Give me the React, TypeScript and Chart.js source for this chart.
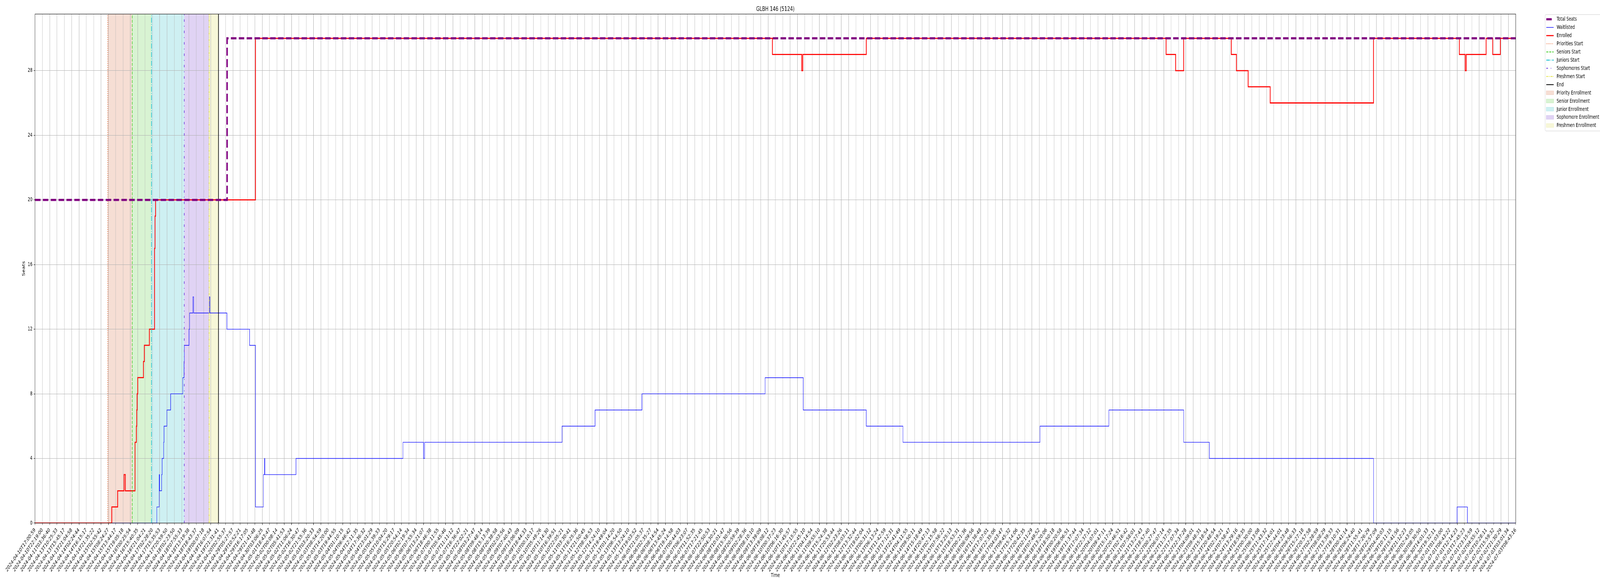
import React, { useEffect, useRef } from "react";
import { Chart, registerables } from "chart.js";

Chart.register(...registerables);

const FONT = "'DejaVu Sans', 'Liberation Sans', sans-serif";
const pt = (v: number) => (v * 100) / 72;

const FIG_W = 6000;
const FIG_H = 1500;

const chartTitle = "GLBH 146 (5124)";
const xTitle = "Time";
const yTitle = "Seats";

const tickLabels = [
  "2024-04-10T17:00:59", "2024-04-10T22:19:00", "2024-04-11T03:36:40", "2024-04-13T10:25:33",
  "2024-04-13T15:45:17", "2024-04-13T21:04:58", "2024-04-14T02:24:44", "2024-04-14T16:15:17",
  "2024-04-14T21:35:22", "2024-04-15T02:55:42", "2024-04-15T08:24:27", "2024-04-15T13:44:17",
  "2024-04-15T19:05:18", "2024-04-16T00:25:54", "2024-04-16T15:40:35", "2024-04-16T21:04:21",
  "2024-04-17T02:28:20", "2024-04-17T15:35:53", "2024-04-17T20:59:50", "2024-04-18T02:23:50",
  "2024-04-18T07:55:33", "2024-04-18T13:19:38", "2024-04-18T18:43:37", "2024-04-19T00:07:18",
  "2024-04-19T16:07:54", "2024-04-19T21:31:41", "2024-04-20T02:55:37", "2024-04-29T05:27:57",
  "2024-04-29T10:52:21", "2024-04-29T16:17:05", "2024-04-29T21:41:48", "2024-04-30T03:06:25",
  "2024-05-01T18:43:47", "2024-05-02T00:08:14", "2024-05-02T05:41:53", "2024-05-02T11:06:24",
  "2024-05-02T16:30:47", "2024-05-02T21:55:36", "2024-05-03T03:20:33", "2024-05-03T08:54:59",
  "2024-05-03T14:20:00", "2024-05-03T19:44:55", "2024-05-04T01:10:15", "2024-05-04T06:46:42",
  "2024-05-04T12:11:35", "2024-05-04T17:36:32", "2024-05-04T23:01:29", "2024-05-05T04:39:33",
  "2024-05-05T10:04:20", "2024-05-05T15:29:17", "2024-05-05T20:54:14", "2024-05-06T02:19:34",
  "2024-05-06T07:55:34", "2024-05-06T13:21:07", "2024-05-06T18:46:38", "2024-05-07T00:11:55",
  "2024-05-07T05:45:46", "2024-05-07T11:11:12", "2024-05-07T16:36:47", "2024-05-07T22:02:21",
  "2024-05-08T03:27:47", "2024-05-08T09:48:14", "2024-05-08T15:13:39", "2024-05-08T20:38:58",
  "2024-05-09T02:03:56", "2024-05-09T07:40:43", "2024-05-09T13:06:09", "2024-05-09T18:44:33",
  "2024-05-10T00:10:17", "2024-05-10T05:49:26", "2024-05-10T11:14:30", "2024-05-10T16:39:51",
  "2024-05-10T22:05:21", "2024-05-11T03:30:41", "2024-05-11T16:25:36", "2024-05-11T21:50:45",
  "2024-05-12T08:58:53", "2024-05-12T14:24:10", "2024-05-12T19:49:04", "2024-05-13T01:14:20",
  "2024-05-13T06:54:50", "2024-05-13T13:24:10", "2024-05-13T19:03:52", "2024-06-05T21:05:37",
  "2024-06-06T02:35:27", "2024-06-06T08:14:54", "2024-06-06T13:45:24", "2024-06-06T19:14:58",
  "2024-06-07T00:44:03", "2024-06-07T06:23:07", "2024-06-07T11:52:35", "2024-06-07T17:21:45",
  "2024-06-07T22:50:53", "2024-06-08T04:30:21", "2024-06-08T10:01:47", "2024-06-08T15:30:56",
  "2024-06-08T20:59:39", "2024-06-09T02:28:36", "2024-06-09T08:10:10", "2024-06-09T13:39:09",
  "2024-06-09T19:08:12", "2024-06-10T00:37:23", "2024-06-10T06:16:30", "2024-06-10T11:45:57",
  "2024-06-10T17:15:55", "2024-06-10T22:45:10", "2024-06-11T04:14:54", "2024-06-11T09:55:10",
  "2024-06-11T15:24:38", "2024-06-11T20:53:44", "2024-06-12T02:23:26", "2024-06-12T08:03:11",
  "2024-06-12T13:32:44", "2024-06-12T19:02:04", "2024-06-13T00:31:12", "2024-06-13T06:13:24",
  "2024-06-13T11:42:59", "2024-06-13T17:12:31", "2024-06-13T22:41:49", "2024-06-14T04:11:55",
  "2024-06-14T09:50:11", "2024-06-14T15:18:49", "2024-06-14T20:47:13", "2024-06-15T02:15:58",
  "2024-06-15T07:56:22", "2024-06-15T13:25:13", "2024-06-15T18:53:31", "2024-06-16T00:21:36",
  "2024-06-16T06:09:56", "2024-06-16T11:38:48", "2024-06-16T17:07:01", "2024-06-16T22:35:06",
  "2024-06-17T04:03:47", "2024-06-17T09:45:32", "2024-06-17T15:14:06", "2024-06-17T20:42:35",
  "2024-06-18T02:11:29", "2024-06-18T07:49:52", "2024-06-18T13:20:06", "2024-06-18T18:50:18",
  "2024-06-19T00:20:58", "2024-06-19T06:06:51", "2024-06-19T11:37:44", "2024-06-19T17:07:34",
  "2024-06-19T22:37:12", "2024-06-20T04:07:01", "2024-06-20T09:47:11", "2024-06-20T15:17:24",
  "2024-06-20T20:46:51", "2024-06-21T02:16:42", "2024-06-21T07:58:01", "2024-06-21T13:27:43",
  "2024-06-21T18:57:40", "2024-06-22T00:27:47", "2024-06-22T06:07:14", "2024-06-22T11:37:35",
  "2024-06-22T17:07:34", "2024-06-22T22:37:28", "2024-06-23T04:09:01", "2024-06-23T09:48:31",
  "2024-06-23T15:18:54", "2024-06-23T20:48:54", "2024-06-24T02:19:21", "2024-06-24T07:58:47",
  "2024-06-24T13:29:16", "2024-06-24T18:59:35", "2024-06-25T00:30:00", "2024-06-25T06:13:08",
  "2024-06-25T11:43:32", "2024-06-25T17:14:01", "2024-06-25T22:44:01", "2024-06-26T04:23:48",
  "2024-06-26T09:56:33", "2024-06-26T15:27:18", "2024-06-26T20:57:58", "2024-06-27T02:28:59",
  "2024-06-27T08:08:29", "2024-06-27T13:39:33", "2024-06-27T19:10:31", "2024-06-28T00:41:14",
  "2024-06-28T06:24:40", "2024-06-28T11:55:41", "2024-06-28T17:26:29", "2024-06-28T22:57:09",
  "2024-06-29T04:40:03", "2024-06-29T10:11:15", "2024-06-29T15:41:56", "2024-06-29T21:12:23",
  "2024-06-30T02:43:05", "2024-06-30T08:30:50", "2024-06-30T14:01:33", "2024-06-30T19:32:11",
  "2024-07-01T01:03:00", "2024-07-01T06:43:22", "2024-07-01T12:14:23", "2024-07-01T17:45:23",
  "2024-07-01T23:15:59", "2024-07-02T04:55:12", "2024-07-02T10:28:11", "2024-07-02T15:59:32",
  "2024-07-02T21:30:29", "2024-07-03T03:01:34", "2024-07-03T08:43:16",
];

const yTickValues = [0, 4, 8, 12, 16, 20, 24, 28];
const yLimit = 31.5;

// x values are positions along the sample axis, in units of tick labels
const totalSeatsX = [0, 26.2, 202];
const totalSeatsY = [20, 30, 30];

const enrolledX = [
  0, 10.47, 11.27, 12.14, 12.32, 13.64, 13.83, 13.87, 13.93, 14.01, 14.79, 14.91, 15.6, 16.3, 16.37,
  16.45, 30.07, 100.6, 104.6, 104.75, 113.4, 154.3, 155.6, 156.7, 163.2, 163.9, 165.5, 168.5, 182.6,
  194.3, 195.1, 195.25, 197.96, 198.86, 199.9, 202,
];
const enrolledY = [
  0, 1, 2, 3, 2, 5, 6, 7, 8, 9, 10, 11, 12, 17, 19,
  20, 30, 29, 28, 29, 30, 29, 28, 30, 29, 28, 27, 26, 30,
  29, 28, 29, 30, 29, 30, 30,
];

const waitlistedX = [
  0, 16.62, 16.94, 16.99, 17.27, 17.34, 17.55, 17.6, 17.99, 18.5, 20.16, 20.33, 20.37, 21.01, 21.09,
  21.54, 21.64, 23.78, 23.86, 26.18, 29.27, 30.07, 31.15, 31.31, 31.35, 35.6, 50.2, 53.0, 53.15, 71.9,
  76.4, 82.8, 99.6, 104.8, 113.4, 118.4, 137.1, 146.5, 156.7, 160.2, 182.6, 194.0, 195.4, 202,
];
const waitlistedY = [
  0, 1, 3, 2, 3, 4, 5, 6, 7, 8, 9, 10, 11, 12, 13,
  14, 13, 14, 13, 12, 11, 1, 3, 4, 3, 4, 5, 4, 5, 6,
  7, 8, 9, 7, 6, 5, 6, 7, 5, 4, 0, 1, 0, 0,
];

const phaseLabels = ["Priorities Start", "Seniors Start", "Juniors Start", "Sophomores Start", "Freshmen Start", "End"];
const phaseX = [9.92, 13.26, 15.89, 20.36, 23.75, 25.03];
const bandLabels = ["Priority Enrollment", "Senior Enrollment", "Junior Enrollment", "Sophomore Enrollment", "Freshmen Enrollment"];

// styles
const phaseColors = ["#ec6d35", "#3dcc22", "#17becf", "#6a2fdc", "#e2e23a", "#000000"];
const phaseDashUnits = [[1, 1.65], [3.7, 1.6], [6.4, 1.6, 1, 1.6], [3, 5, 1, 5], [3, 1, 1, 1, 1, 1], []];
const phaseWidth = pt(1.5);
const bandColors = ["#f6ded4", "#d8f3d2", "#cef0f2", "#e0d3f4", "#f7f7d8"];
const bandEdges = ["#f1d2c5", "#c9edc2", "#bde9ec", "#d6c6f0", "#f1f1c6"];

const toPoints = (xs: number[], ys: number[]) => xs.map((x, i) => ({ x, y: ys[i] }));

type LegendItem = { label: string; kind: "line" | "patch"; color: string; width?: number; dash?: number[]; edge?: string };

const totalStyle = { color: "#800080", width: pt(4), dash: [pt(14.8), pt(6.4)] };
const waitStyle = { color: "#0000ff", width: pt(1) };
const enrolledStyle = { color: "#ff0000", width: pt(2) };

const legendItems: LegendItem[] = [
  { label: "Total Seats", kind: "line", color: totalStyle.color, width: totalStyle.width, dash: totalStyle.dash },
  { label: "Waitlisted", kind: "line", color: waitStyle.color, width: waitStyle.width, dash: [] },
  { label: "Enrolled", kind: "line", color: enrolledStyle.color, width: enrolledStyle.width, dash: [] },
  ...phaseLabels.map((label, i) => ({
    label,
    kind: "line" as const,
    color: phaseColors[i],
    width: phaseWidth,
    dash: phaseDashUnits[i].map((d) => d * phaseWidth),
  })),
  ...bandLabels.map((label, i) => ({ label, kind: "patch" as const, color: bandColors[i], edge: bandEdges[i] })),
];

const bandPlugin = {
  id: "bands",
  beforeDraw(chart: any) {
    const { ctx, chartArea: a, scales } = chart;
    const x = scales.x;
    ctx.save();
    for (let i = 0; i < bandLabels.length; i++) {
      const x0 = x.getPixelForValue(phaseX[i]);
      const x1 = x.getPixelForValue(phaseX[i + 1]);
      ctx.fillStyle = bandColors[i];
      ctx.fillRect(x0, a.top, x1 - x0, a.bottom - a.top);
    }
    ctx.restore();
  },
};

const framePlugin = {
  id: "frame",
  afterDatasetsDraw(chart: any) {
    const { ctx, chartArea: a } = chart;
    ctx.save();
    ctx.strokeStyle = "#000";
    ctx.lineWidth = pt(0.8);
    ctx.strokeRect(a.left, a.top, a.right - a.left, a.bottom - a.top);
    ctx.restore();
  },
};

const titleLegendPlugin = {
  id: "titleLegend",
  afterDraw(chart: any) {
    const { ctx, chartArea: a } = chart;
    ctx.save();
    // title
    ctx.fillStyle = "#000";
    ctx.font = `${pt(12)}px ${FONT}`;
    ctx.textAlign = "center";
    ctx.textBaseline = "alphabetic";
    ctx.fillText(chartTitle, (a.left + a.right) / 2, a.top - pt(6));

    // legend (outside the axes, upper left anchor)
    const fs = pt(10);
    const left = a.right + 110.5;
    const top = a.top + 1.3;
    const rowH = 20.92;
    const firstRow = a.top + 13.3;
    const bottom = firstRow + rowH * (legendItems.length - 1) + 14;
    const right = FIG_W + 3;
    const r = 3;
    ctx.beginPath();
    ctx.moveTo(left + r, top);
    ctx.lineTo(right - r, top);
    ctx.arcTo(right, top, right, top + r, r);
    ctx.lineTo(right, bottom - r);
    ctx.arcTo(right, bottom, right - r, bottom, r);
    ctx.lineTo(left + r, bottom);
    ctx.arcTo(left, bottom, left, bottom - r, r);
    ctx.lineTo(left, top + r);
    ctx.arcTo(left, top, left + r, top, r);
    ctx.closePath();
    ctx.fillStyle = "rgba(255,255,255,0.8)";
    ctx.fill();
    ctx.strokeStyle = "#cccccc";
    ctx.lineWidth = 1;
    ctx.stroke();

    const hx0 = left + 4;
    const hx1 = hx0 + 2 * fs;
    const tx = hx0 + 2 * fs + 0.8 * fs;
    ctx.font = `${fs}px ${FONT}`;
    ctx.textAlign = "left";
    ctx.textBaseline = "middle";
    legendItems.forEach((it, i) => {
      const cy = firstRow + i * rowH;
      if (it.kind === "line") {
        ctx.save();
        ctx.beginPath();
        ctx.setLineDash(it.dash || []);
        ctx.lineWidth = it.width || 1;
        ctx.strokeStyle = it.color;
        ctx.lineCap = "butt";
        ctx.moveTo(hx0, cy);
        ctx.lineTo(hx1, cy);
        ctx.stroke();
        ctx.restore();
      } else {
        const h = 0.7 * fs;
        ctx.fillStyle = it.color;
        ctx.fillRect(hx0, cy - h / 2, hx1 - hx0, h);
        ctx.strokeStyle = it.edge || it.color;
        ctx.lineWidth = 1;
        ctx.strokeRect(hx0, cy - h / 2, hx1 - hx0, h);
      }
      ctx.fillStyle = "#000";
      ctx.fillText(it.label, tx, cy + 0.5);
    });
    ctx.restore();
  },
};

export default function App() {
  const canvasRef = useRef<HTMLCanvasElement | null>(null);
  // the figure is drawn at 6000x1500 and shown in whatever width the window offers
  const viewW = typeof window !== "undefined" && window.innerWidth ? Math.min(FIG_W, window.innerWidth) : FIG_W;

  useEffect(() => {
    const canvas = canvasRef.current;
    if (!canvas) return;
    const fs = pt(10);

    const phaseDatasets = phaseLabels.map((label, i) => ({
      label,
      data: [
        { x: phaseX[i], y: 0 },
        { x: phaseX[i], y: yLimit },
      ],
      borderColor: phaseColors[i],
      borderWidth: phaseWidth,
      borderDash: phaseDashUnits[i].map((d) => d * phaseWidth),
      pointRadius: 0,
      fill: false,
      order: 1,
    }));

    const chart = new Chart(canvas, {
      type: "line",
      data: {
        datasets: [
          {
            label: "Total Seats",
            data: toPoints(totalSeatsX, totalSeatsY),
            borderColor: totalStyle.color,
            borderWidth: totalStyle.width,
            borderDash: totalStyle.dash,
            stepped: "before",
            pointRadius: 0,
            fill: false,
            order: 0,
          },
          ...phaseDatasets,
          {
            label: "Enrolled",
            data: toPoints(enrolledX, enrolledY),
            borderColor: enrolledStyle.color,
            borderWidth: enrolledStyle.width,
            stepped: "before",
            pointRadius: 0,
            fill: false,
            order: 2,
          },
          {
            label: "Waitlisted",
            data: toPoints(waitlistedX, waitlistedY),
            borderColor: waitStyle.color,
            borderWidth: waitStyle.width,
            stepped: "before",
            pointRadius: 0,
            fill: false,
            order: 3,
          },
        ],
      } as any,
      options: {
        responsive: false,
        maintainAspectRatio: false,
        animation: false,
        devicePixelRatio: 1,
        layout: { padding: { top: 36, right: 316, bottom: 0, left: 0 } },
        plugins: {
          legend: { display: false },
          title: { display: false },
          tooltip: { enabled: false },
        },
        scales: {
          x: {
            type: "linear",
            min: 0,
            max: tickLabels.length - 1,
            afterBuildTicks: (scale: any) => {
              scale.ticks = tickLabels.map((_, i) => ({ value: i }));
            },
            afterFit: (scale: any) => {
              scale.height = 161;
            },
            grid: {
              color: "#b0b0b0",
              lineWidth: pt(0.8),
              tickColor: "#000",
              tickLength: pt(3.5),
              tickWidth: pt(0.8),
            },
            border: { display: false },
            ticks: {
              autoSkip: false,
              minRotation: 45,
              maxRotation: 45,
              padding: pt(3.5),
              color: "#000",
              font: { size: fs, family: FONT },
              callback: (_v: any, i: number) => tickLabels[i],
            },
            title: {
              display: true,
              text: xTitle,
              color: "#000",
              font: { size: fs, family: FONT },
              padding: { top: 4, bottom: 18 },
            },
          },
          y: {
            type: "linear",
            min: 0,
            max: yLimit,
            afterBuildTicks: (scale: any) => {
              scale.ticks = yTickValues.map((v) => ({ value: v }));
            },
            afterFit: (scale: any) => {
              scale.width = 131.3;
            },
            grid: {
              color: "#b0b0b0",
              lineWidth: pt(0.8),
              tickColor: "#000",
              tickLength: pt(3.5),
              tickWidth: pt(0.8),
            },
            border: { display: false },
            ticks: {
              padding: pt(3.5),
              color: "#000",
              font: { size: fs, family: FONT },
              callback: (v: any) => String(v),
            },
            title: {
              display: true,
              text: yTitle,
              color: "#000",
              font: { size: fs, family: FONT },
              padding: { top: 81, bottom: 0 },
            },
          },
        },
      } as any,
      plugins: [bandPlugin, framePlugin, titleLegendPlugin],
    });

    return () => chart.destroy();
  }, []);

  return (
    <div style={{ position: "absolute", left: 0, top: 0, width: viewW, height: FIG_H, background: "#fff", overflow: "hidden" }}>
      <canvas
        ref={canvasRef}
        width={FIG_W}
        height={FIG_H}
        style={{ width: viewW, height: FIG_H, display: "block" }}
      />
    </div>
  );
}
